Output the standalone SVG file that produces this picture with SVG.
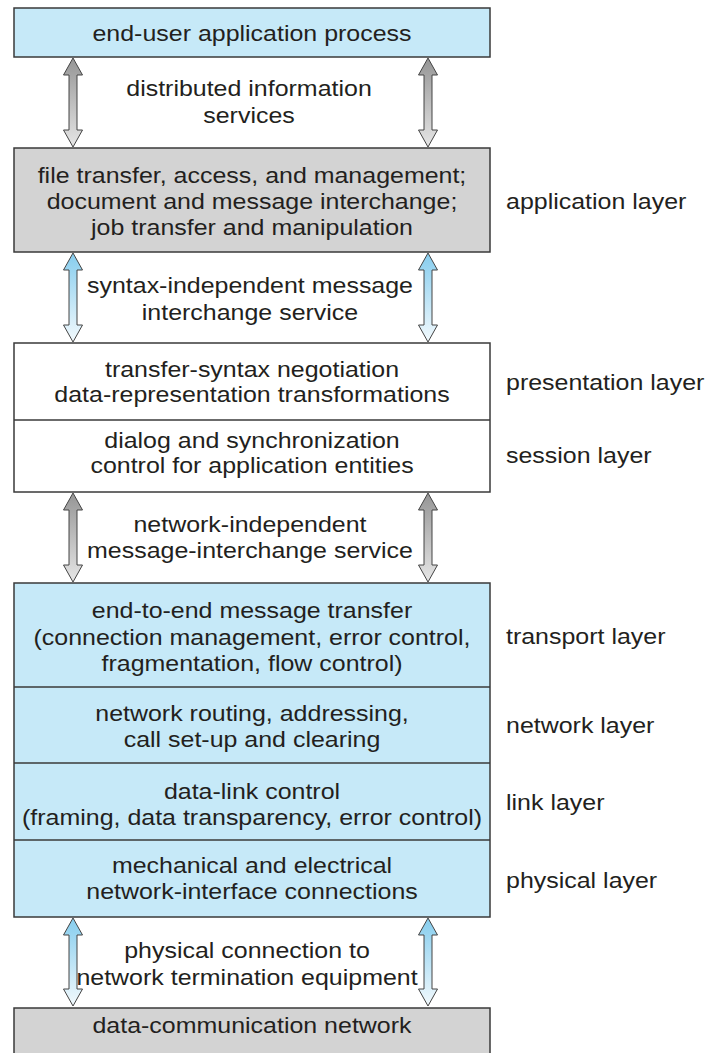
<svg xmlns="http://www.w3.org/2000/svg" width="709" height="1053" viewBox="0 0 709 1053">
<style>
.box{stroke:#3a3a3a;stroke-width:1.5}
.blue{fill:#c6e9f8}
.gray{fill:#d3d3d3}
.white{fill:#ffffff}
.div{stroke:#3a3a3a;stroke-width:1.5}
text{font-family:"Liberation Sans",Arial,Helvetica,sans-serif;font-size:22.5px;fill:#231f20}
.c{text-anchor:middle}
.arrow{stroke:#444;stroke-width:1}
</style>
<defs>
<linearGradient id="gGray" x1="0" y1="0" x2="0" y2="1">
<stop offset="0" stop-color="#959595"/>
<stop offset="1" stop-color="#e6e6e6"/>
</linearGradient>
<linearGradient id="gBlue" x1="0" y1="0" x2="0" y2="1">
<stop offset="0" stop-color="#86cdee"/>
<stop offset="1" stop-color="#f2f9fd"/>
</linearGradient>
</defs>

<g id="connectors">
<path id="a1l" class="arrow" fill="url(#gGray)" d="M73,58 L82.5,75 L77,75 L77,130 L82.5,130 L73,147 L63.5,130 L69,130 L69,75 L63.5,75 Z"/>
<path id="a1r" class="arrow" fill="url(#gGray)" d="M428,58 L437.5,75 L432,75 L432,130 L437.5,130 L428,147 L418.5,130 L424,130 L424,75 L418.5,75 Z"/>
<path id="a2l" class="arrow" fill="url(#gBlue)" d="M73,253 L82.5,270 L77,270 L77,325 L82.5,325 L73,342 L63.5,325 L69,325 L69,270 L63.5,270 Z"/>
<path id="a2r" class="arrow" fill="url(#gBlue)" d="M428,253 L437.5,270 L432,270 L432,325 L437.5,325 L428,342 L418.5,325 L424,325 L424,270 L418.5,270 Z"/>
<path id="a3l" class="arrow" fill="url(#gGray)" d="M73,493 L82.5,510 L77,510 L77,565 L82.5,565 L73,582 L63.5,565 L69,565 L69,510 L63.5,510 Z"/>
<path id="a3r" class="arrow" fill="url(#gGray)" d="M428,493 L437.5,510 L432,510 L432,565 L437.5,565 L428,582 L418.5,565 L424,565 L424,510 L418.5,510 Z"/>
<path id="a4l" class="arrow" fill="url(#gBlue)" d="M73,918 L82.5,935 L77,935 L77,989 L82.5,989 L73,1006 L63.5,989 L69,989 L69,935 L63.5,935 Z"/>
<path id="a4r" class="arrow" fill="url(#gBlue)" d="M428,918 L437.5,935 L432,935 L432,989 L437.5,989 L428,1006 L418.5,989 L424,989 L424,935 L418.5,935 Z"/>
<text class="c" transform="translate(249,96) scale(1.11,1)">distributed information</text>
<text class="c" transform="translate(249,123) scale(1.11,1)">services</text>
<text class="c" transform="translate(250,293) scale(1.11,1)">syntax-independent message</text>
<text class="c" transform="translate(250,320) scale(1.11,1)">interchange service</text>
<text class="c" transform="translate(250,532) scale(1.11,1)">network-independent</text>
<text class="c" transform="translate(250,558) scale(1.11,1)">message-interchange service</text>
<text class="c" transform="translate(247,958) scale(1.11,1)">physical connection to</text>
<text class="c" transform="translate(247,985) scale(1.11,1)">network termination equipment</text>
</g>

<g id="node-enduser">
<rect class="box blue" x="14" y="8" width="476" height="49"/>
<text class="c" transform="translate(252,41) scale(1.11,1)">end-user application process</text>
</g>

<g id="node-application">
<rect class="box gray" x="14" y="148" width="476" height="104"/>
<text class="c" transform="translate(252,183) scale(1.11,1)">file transfer, access, and management;</text>
<text class="c" transform="translate(252,209) scale(1.11,1)">document and message interchange;</text>
<text class="c" transform="translate(252,235) scale(1.11,1)">job transfer and manipulation</text>
<text transform="translate(506,209) scale(1.11,1)">application layer</text>
</g>

<g id="node-presentation-session">
<rect class="box white" x="14" y="343" width="476" height="149"/>
<line class="div" x1="14" y1="420" x2="490" y2="420"/>
<text class="c" transform="translate(252,377) scale(1.11,1)">transfer-syntax negotiation</text>
<text class="c" transform="translate(252,402) scale(1.11,1)">data-representation transformations</text>
<text transform="translate(506,390) scale(1.11,1)">presentation layer</text>
<text class="c" transform="translate(252,448) scale(1.11,1)">dialog and synchronization</text>
<text class="c" transform="translate(252,473) scale(1.11,1)">control for application entities</text>
<text transform="translate(506,463) scale(1.11,1)">session layer</text>
</g>

<g id="node-lower">
<rect class="box blue" x="14" y="583" width="476" height="334"/>
<line class="div" x1="14" y1="687" x2="490" y2="687"/>
<line class="div" x1="14" y1="763" x2="490" y2="763"/>
<line class="div" x1="14" y1="840" x2="490" y2="840"/>
<text class="c" transform="translate(252,618) scale(1.11,1)">end-to-end message transfer</text>
<text class="c" transform="translate(252,645) scale(1.11,1)">(connection management, error control,</text>
<text class="c" transform="translate(252,671) scale(1.11,1)">fragmentation, flow control)</text>
<text transform="translate(506,644) scale(1.11,1)">transport layer</text>
<text class="c" transform="translate(252,721) scale(1.11,1)">network routing, addressing,</text>
<text class="c" transform="translate(252,747) scale(1.11,1)">call set-up and clearing</text>
<text transform="translate(506,733) scale(1.11,1)">network layer</text>
<text class="c" transform="translate(252,799) scale(1.11,1)">data-link control</text>
<text class="c" transform="translate(252,825) scale(1.11,1)">(framing, data transparency, error control)</text>
<text transform="translate(506,810) scale(1.11,1)">link layer</text>
<text class="c" transform="translate(252,873) scale(1.11,1)">mechanical and electrical</text>
<text class="c" transform="translate(252,899) scale(1.11,1)">network-interface connections</text>
<text transform="translate(506,888) scale(1.11,1)">physical layer</text>
</g>

<g id="node-network">
<rect class="box gray" x="14" y="1008" width="476" height="60"/>
<text class="c" transform="translate(252,1033) scale(1.11,1)">data-communication network</text>
</g>
</svg>
